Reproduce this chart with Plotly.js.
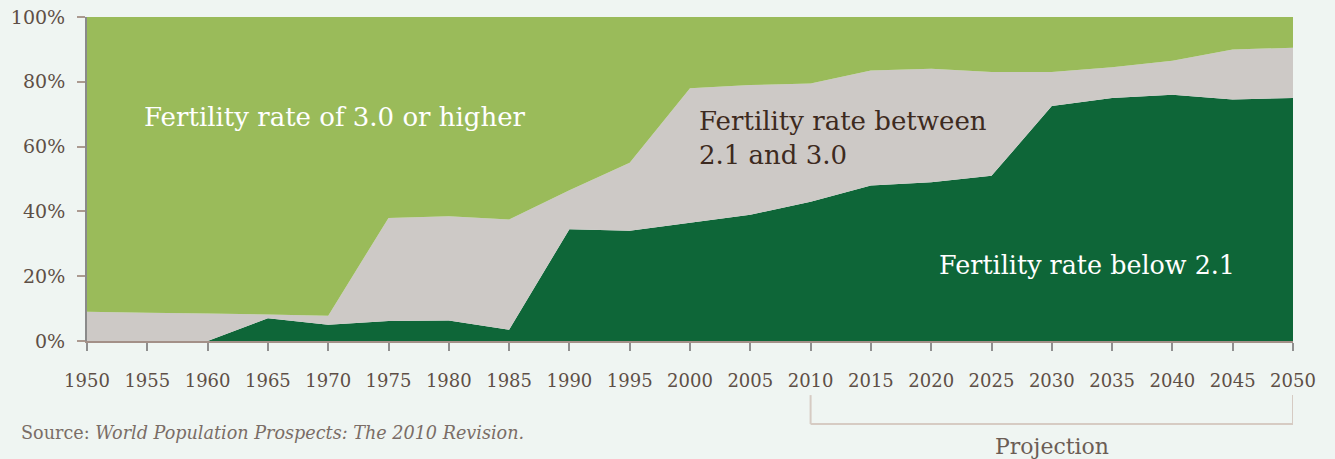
<!DOCTYPE html>
<html>
<head>
<meta charset="utf-8">
<script src="https://cdn.plot.ly/plotly-3.0.1.min.js"></script>
<style>
html,body{margin:0;padding:0;background:#eff5f2;}
#chart{width:1335px;height:459px;}
</style>
</head>
<body>
<div id="chart"></div>
<script>
const years = [1950,1955,1960,1965,1970,1975,1980,1985,1990,1995,2000,2005,2010,2015,2020,2025,2030,2035,2040,2045,2050];
const below21 = [0,0,0,7,5,6.2,6.3,3.5,34.5,34,36.5,39,43,48,49,51,72.5,75,76,74.5,75];
const between = [9,8.7,8.5,1.2,2.8,31.8,32.2,34,12,21,41.5,40,36.5,35.5,35,32,10.5,9.5,10.5,15.5,15.5];
const above30 = [91,91.3,91.5,91.8,92.2,62,61.5,62.5,53.5,45,22,21,20.5,16.5,16,17,17,15.5,13.5,10,9.5];
const yTicks = [0,20,40,60,80,100];
const yTickText = ['0%','20%','40%','60%','80%','100%'];
const xTicks = years;

const FONT = '"DejaVu Serif", "Liberation Serif", serif';

const traces = [
  {x: years, y: below21, name: 'Fertility rate below 2.1', type: 'scatter', mode: 'none', stackgroup: 'one', fillcolor: '#0e6638', line:{width:0}},
  {x: years, y: between, name: 'Fertility rate between 2.1 and 3.0', type: 'scatter', mode: 'none', stackgroup: 'one', fillcolor: '#cdc9c6', line:{width:0}},
  {x: years, y: above30, name: 'Fertility rate of 3.0 or higher', type: 'scatter', mode: 'none', stackgroup: 'one', fillcolor: '#9abb5a', line:{width:0}}
];

const layout = {
  width: 1335, height: 459,
  margin: {l: 87, r: 42, t: 17, b: 118},
  paper_bgcolor: '#eff5f2',
  plot_bgcolor: '#eff5f2',
  showlegend: false,
  font: {family: FONT, color: '#5e4f46', size: 18},
  xaxis: {
    range: [1950, 2050], tickvals: xTicks, ticktext: xTicks.map(String),
    showgrid: false, zeroline: false,
    showline: true, linecolor: '#a39088', linewidth: 2,
    ticks: 'outside', ticklen: 8, tickcolor: '#8f8f8f', tickwidth: 2,
    ticklabelstandoff: 14,
    tickfont: {family: FONT, size: 18, color: '#5e4f46'},
    fixedrange: true
  },
  yaxis: {
    range: [0, 100], tickvals: yTicks, ticktext: yTickText,
    showgrid: false, zeroline: false,
    showline: true, linecolor: '#8a8a8a', linewidth: 2,
    ticks: 'outside', ticklen: 8, tickcolor: '#ab9a90', tickwidth: 2,
    ticklabelstandoff: 8,
    tickfont: {family: FONT, size: 19, color: '#5e4f46'},
    fixedrange: true
  },
  shapes: [
    {type: 'line', xref: 'x', yref: 'paper', x0: 2010, x1: 2010, y0: -0.167, y1: -0.256, line: {color: '#d6cbc3', width: 2}},
    {type: 'line', xref: 'x', yref: 'paper', x0: 2050, x1: 2050, y0: -0.167, y1: -0.256, line: {color: '#d6cbc3', width: 2}},
    {type: 'line', xref: 'x', yref: 'paper', x0: 2010, x1: 2050, y0: -0.256, y1: -0.256, line: {color: '#d6cbc3', width: 2}}
  ],
  annotations: [
    {xref: 'x', yref: 'y', x: 1954.6, y: 69, xanchor: 'left', yanchor: 'middle', text: 'Fertility rate of 3.0 or higher', showarrow: false, font: {family: FONT, size: 26, color: '#ffffff'}},
    {xref: 'x', yref: 'y', x: 2000.6, y: 62.7, xanchor: 'left', yanchor: 'middle', align: 'left', text: 'Fertility rate between<br>2.1 and 3.0', showarrow: false, font: {family: FONT, size: 26, color: '#3d2a20'}},
    {xref: 'x', yref: 'y', x: 2020.5, y: 23.5, xanchor: 'left', yanchor: 'middle', text: 'Fertility rate below 2.1', showarrow: false, font: {family: FONT, size: 25.4, color: '#ffffff'}},
    {xref: 'x', yref: 'paper', x: 2030, y: -0.325, xanchor: 'center', yanchor: 'middle', text: 'Projection', showarrow: false, font: {family: FONT, size: 22, color: '#6b5d55'}},
    {xref: 'paper', yref: 'paper', x: -0.056, y: -0.285, xanchor: 'left', yanchor: 'middle', text: 'Source: <i>World Population Prospects: The 2010 Revision.</i>', showarrow: false, font: {family: FONT, size: 17.6, color: '#7a6d66'}}
  ]
};

Plotly.newPlot('chart', traces, layout, {displayModeBar: false, staticPlot: true});
</script>
</body>
</html>
